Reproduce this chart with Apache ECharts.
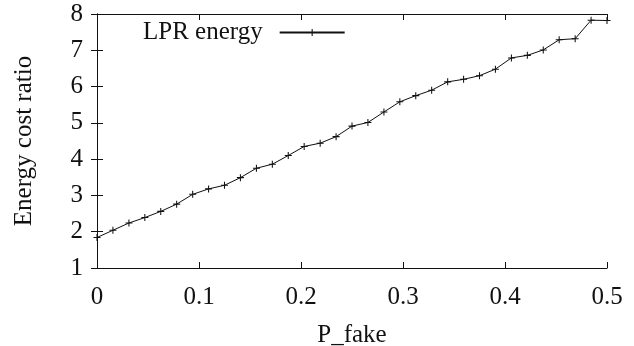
<!DOCTYPE html>
<html>
<head>
<meta charset="utf-8">
<script src="https://cdn.jsdelivr.net/npm/echarts@6/dist/echarts.min.js"></script>
<style>
  html, body { margin: 0; padding: 0; background: #fff; }
  #chart { width: 634px; height: 346px; }
</style>
</head>
<body>
<div id="chart"></div>
<script>
// Fake-packet probability on the x axis
const pFake = [0, 0.0156, 0.0313, 0.0469, 0.0625, 0.0781, 0.0938, 0.1094, 0.125, 0.1406,
  0.1563, 0.1719, 0.1875, 0.2031, 0.2188, 0.2344, 0.25, 0.2656, 0.2813, 0.2969,
  0.3125, 0.3281, 0.3438, 0.3594, 0.375, 0.3906, 0.4063, 0.4219, 0.4375, 0.4531,
  0.4688, 0.4844, 0.5];
// LPR energy cost ratio at each probability
const lprEnergy = [1.84, 2.04, 2.24, 2.39, 2.56, 2.76, 3.03, 3.18, 3.28, 3.49,
  3.75, 3.86, 4.10, 4.35, 4.44, 4.62, 4.91, 5.01, 5.30, 5.58,
  5.75, 5.90, 6.13, 6.20, 6.30, 6.48, 6.79, 6.86, 7.01, 7.29,
  7.32, 7.83, 7.82];
const seriesName = 'LPR energy';
const xTitle = 'P_fake';
const yTitle = 'Energy cost ratio';

const FONT = 'Liberation Serif';
const INK = '#111';
// thin "+" marker
const PLUS = 'path://M-0.15,-1L0.15,-1L0.15,-0.15L1,-0.15L1,0.15L0.15,0.15L0.15,1L-0.15,1L-0.15,0.15L-1,0.15L-1,-0.15L-0.15,-0.15Z';

const axisLine = { show: true, lineStyle: { color: INK, width: 1 } };
const tickIn = { show: true, inside: true, length: 6, lineStyle: { color: INK, width: 1 } };
const labelStyle = { color: INK, fontFamily: FONT, fontSize: 25 };

const chart = echarts.init(document.getElementById('chart'), null, { renderer: 'canvas' });
chart.setOption({
  animation: false,
  backgroundColor: '#fff',
  grid: { left: 97, right: 27, top: 14, bottom: 78, containLabel: false, outerBoundsMode: 'none' },
  legend: {
    show: true,
    left: 143,
    top: 20,
    padding: 0,
    align: 'right',
    itemWidth: 65,
    itemHeight: 9,
    textStyle: { color: INK, fontFamily: FONT, fontSize: 25, padding: [0, 12, 0, 0] },
    data: [seriesName]
  },
  xAxis: [
    {
      type: 'value', min: 0, max: 0.5, interval: 0.1,
      name: xTitle, nameLocation: 'middle', nameGap: 55,
      nameTextStyle: labelStyle,
      axisLine: axisLine, axisTick: tickIn,
      axisLabel: Object.assign({ margin: 17 }, labelStyle),
      splitLine: { show: false }
    },
    {
      type: 'value', position: 'top', min: 0, max: 0.5, interval: 0.1,
      axisLine: axisLine, axisTick: tickIn,
      axisLabel: { show: false }, splitLine: { show: false }
    }
  ],
  yAxis: [
    {
      type: 'value', min: 1, max: 8, interval: 1,
      name: yTitle, nameLocation: 'middle', nameGap: 60, nameRotate: 90,
      nameTextStyle: labelStyle,
      axisLine: axisLine, axisTick: tickIn,
      axisLabel: Object.assign({ margin: 14 }, labelStyle),
      splitLine: { show: false }
    },
    {
      type: 'value', position: 'right', min: 1, max: 8, interval: 1,
      axisLine: axisLine, axisTick: tickIn,
      axisLabel: { show: false }, splitLine: { show: false }
    }
  ],
  series: [
    {
      name: seriesName,
      type: 'line',
      xAxisIndex: 0,
      yAxisIndex: 0,
      data: pFake.map((x, i) => [x, lprEnergy[i]]),
      symbol: PLUS,
      symbolSize: 7,
      showAllSymbol: true,
      clip: false,
      itemStyle: { color: INK },
      lineStyle: { color: INK, width: 1 },
      emphasis: { disabled: true }
    }
  ]
});
</script>
</body>
</html>
